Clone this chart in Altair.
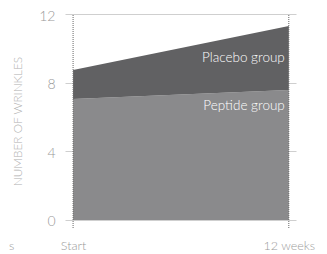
import altair as alt
import pandas as pd

weeks = [0, 12]
x_labels = ["Start", "12 weeks"]
peptide = [7.05, 7.57]
placebo = [8.74, 11.3]
series_names = ["Placebo group", "Peptide group"]
label_y = [9.45, 6.65]
y_ticks = [0, 4, 8, 12]

df = pd.DataFrame({"week": weeks, "peptide": peptide, "placebo": placebo})
lab = pd.DataFrame({"week": [weeks[-1]] * 2, "y": label_y, "name": series_names})
vl = pd.DataFrame({"week": weeks, "lo": [-0.47] * 2, "hi": [12] * 2})

FONT = "Lato"
xs = alt.Scale(domain=[-0.45, 12.4], nice=False, zero=False)
ys = alt.Scale(domain=[-0.47, 12], nice=False, zero=False)

x_axis = alt.Axis(values=weeks, labelExpr="datum.value == 0 ? '%s' : '%s'" % tuple(x_labels),
                  grid=False, domain=False, ticks=False, labelPadding=11,
                  labelColor="#9a9a9a", labelFontSize=12.5, labelFont=FONT,
                  labelFontWeight=300, title=None)
y_axis = alt.Axis(values=y_ticks, grid=True, gridColor="#cfcfcf", gridWidth=1.2,
                  domain=False, ticks=False, labelPadding=10, labelColor="#999999",
                  labelFontSize=14, labelFont=FONT, labelFontWeight=300, labelOffset=2,
                  title="NUMBER OF WRINKLES",
                  titleColor="#b0b0b0", titleFontSize=11.8, titleFontWeight=300,
                  titleFont=FONT, titlePadding=15)

base = alt.Chart(df)
grid = base.mark_point(opacity=0).encode(
    x=alt.X("week:Q", scale=xs, axis=x_axis),
    y=alt.Y("peptide:Q", scale=ys, axis=y_axis),
)
pep = base.mark_area(color="#8a8a8c").encode(
    x=alt.X("week:Q", scale=xs), y=alt.Y("peptide:Q", scale=ys), y2=alt.datum(0))
plc = base.mark_area(color="#616163").encode(
    x=alt.X("week:Q", scale=xs), y=alt.Y("placebo:Q", scale=ys), y2="peptide:Q")
vlines = alt.Chart(vl).mark_rule(color="#666666", strokeDash=[1, 1], strokeWidth=1).encode(
    x=alt.X("week:Q", scale=xs), y=alt.Y("lo:Q", scale=ys), y2="hi:Q")
labels = alt.Chart(lab).mark_text(align="right", baseline="middle", dx=-4, color="white",
                                  fontSize=13.5, font=FONT, fontWeight=300).encode(
    x=alt.X("week:Q", scale=xs), y=alt.Y("y:Q", scale=ys), text="name:N")
stray = alt.Chart(pd.DataFrame({"t": ["s"]})).mark_text(
    align="left", baseline="middle", color="#9a9a9a", fontSize=12.5, font=FONT,
    fontWeight=300).encode(
    x=alt.value(-56), y=alt.value(232), text="t:N")

chart = alt.layer(grid, pep, plc, vlines, labels, stray).properties(
    width=231, height=214,
    autosize=alt.AutoSizeParams(type="none"),
    padding={"left": 57, "top": 6, "right": 23, "bottom": 26},
).configure_view(stroke=None)

chart.save("out.html", embed_options={"renderer": "svg", "actions": False})
